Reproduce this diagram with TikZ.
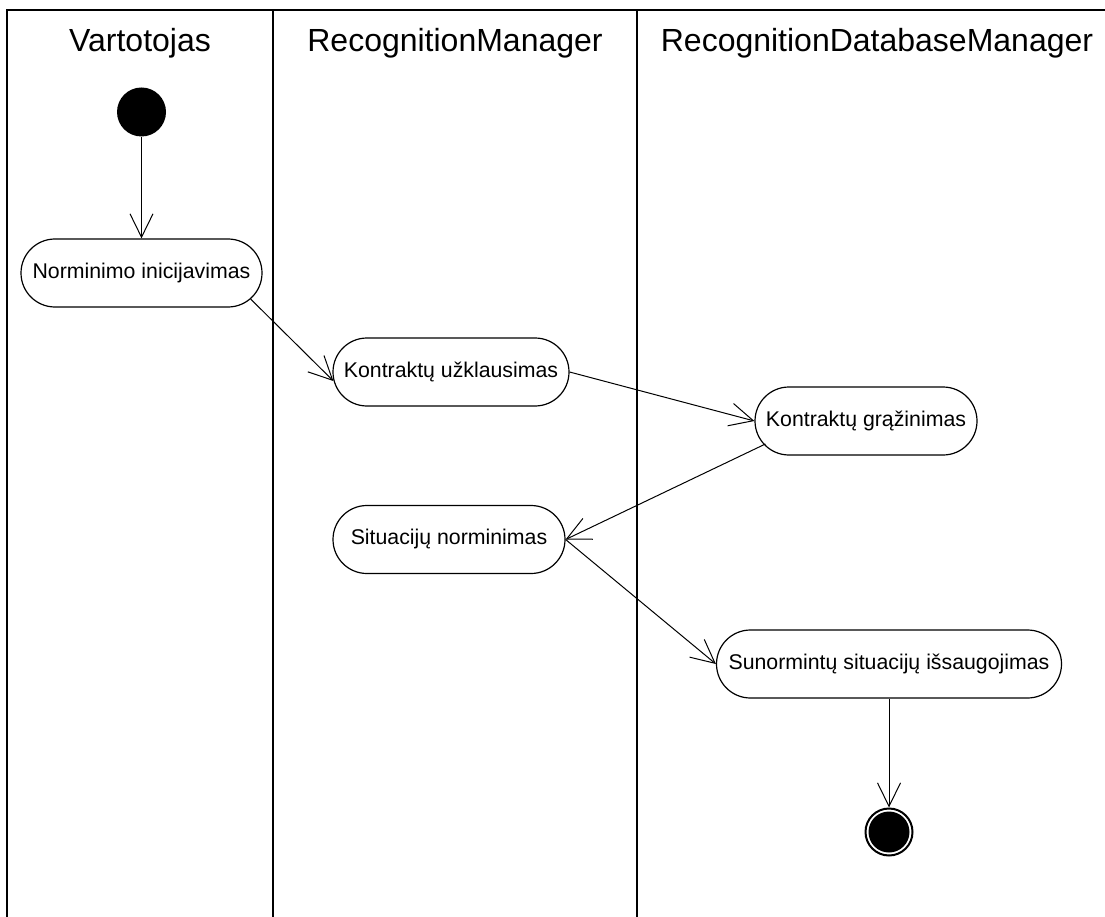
\documentclass[tikz,border=0pt]{standalone}
\usepackage{fontspec}
\setmainfont{Liberation Sans}
\usetikzlibrary{arrows.meta,calc}
\begin{document}
\begin{tikzpicture}[x=1pt,y=-1pt,
  lane/.style={line width=2pt},
  lanetitle/.style={font=\fontsize{32}{38}\selectfont, anchor=base, inner sep=0pt},
  activity/.style={draw, line width=1.2pt, rounded corners=34pt, minimum height=68pt,
    inner sep=0pt, fill=white, font=\fontsize{21.3}{25}\selectfont},
  flow/.style={line width=1pt, -{Straight Barb[length=23.5pt,width=23pt,line width=1pt]}},
]
\useasboundingbox (0,0) rectangle (1105,917);

% swimlane frame
\draw[lane] (7,917) -- (7,10.5) -- (1105,10.5);
\draw[lane] (273,10.5) -- (273,917);
\draw[lane] (637,10.5) -- (637,917);

% lane titles
\node[lanetitle] (t1) at (140,52) {Vartotojas};
\node[lanetitle] (t2) at (455,52) {RecognitionManager};
\node[lanetitle] (t3) at (877,52) {RecognitionDatabaseManager};

% initial state
\node[circle, fill, minimum size=49pt, inner sep=0pt] (start) at (141.5,112) {};

% activities
\node[activity, minimum width=241pt] (a1) at (141.5,273) {Norminimo inicijavimas};
\node[activity, minimum width=236pt] (a2) at (451,372) {Kontraktų užklausimas};
\node[activity, minimum width=222pt] (a3) at (866,421) {Kontraktų grąžinimas};
\node[activity, minimum width=232pt] (a4) at (449,539.5) {Situacijų norminimas};
\node[activity, minimum width=345pt] (a5) at (889,664) {Sunormintų situacijų išsaugojimas};

% final state
\node[circle, draw, line width=2pt, minimum size=47pt, inner sep=0pt] (end) at (889,832) {};
\fill (end.center) circle (20.5pt);

% control flow
\draw[flow] (start) -- (a1.north);
\draw[flow] ($(a1.east)+(-12,26)$) -- ($(a2.west)+(1,9)$);
\draw[flow] (a2.east) -- (a3.west);
\draw[flow] ($(a3.west)+(11,23)$) -- (a4.east);
\draw[flow] (a4.east) -- (a5.west);
\draw[flow] (a5.south) -- (end);
\end{tikzpicture}
\end{document}
